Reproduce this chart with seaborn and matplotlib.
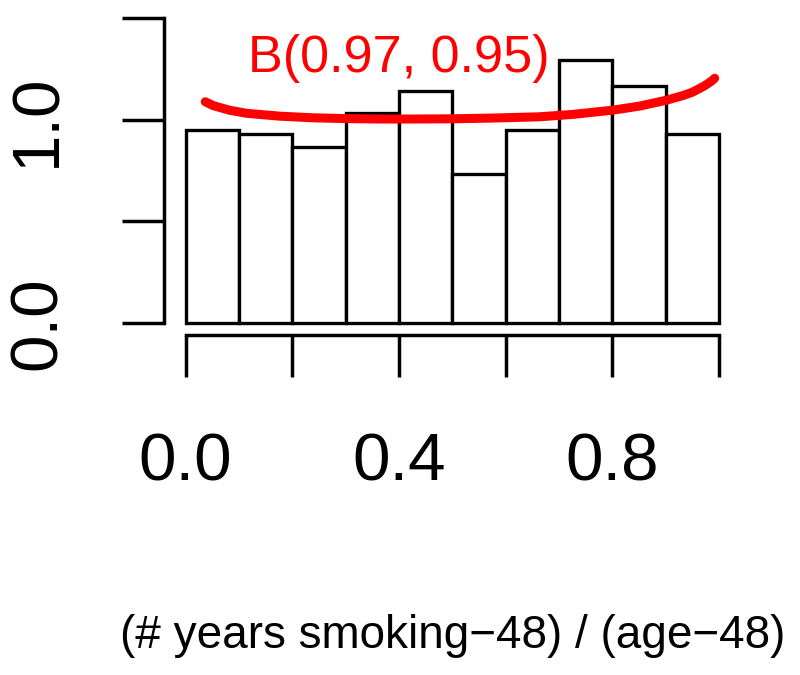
import matplotlib
matplotlib.use("Agg")
import matplotlib.pyplot as plt
import seaborn as sns

# ---- data ----
bin_edges = [0.0, 0.1, 0.2, 0.3, 0.4, 0.5, 0.6, 0.7, 0.8, 0.9, 1.0]
bin_density = [0.950, 0.928, 0.866, 1.035, 1.142, 0.733, 0.950, 1.295, 1.167, 0.928]

curve_x = [0.037, 0.052, 0.083, 0.115, 0.177, 0.239, 0.302, 0.365, 0.430,
           0.500, 0.580, 0.664, 0.727, 0.802, 0.852, 0.902, 0.933, 0.950,
           0.964, 0.973, 0.980, 0.987, 0.992]
curve_y = [1.089, 1.070, 1.047, 1.032, 1.018, 1.010, 1.006, 1.004, 1.004,
           1.005, 1.009, 1.015, 1.027, 1.048, 1.068, 1.097, 1.120, 1.136,
           1.155, 1.168, 1.180, 1.193, 1.205]

x_ticks = [0.0, 0.2, 0.4, 0.6, 0.8, 1.0]
x_ticklabels = ["0.0", "", "0.4", "", "0.8", ""]
y_ticks = [0.0, 0.5, 1.0, 1.5]
y_ticklabels = ["0.0", "", "1.0", ""]

fit_label = "B(0.97, 0.95)"
x_label = "(# years smoking\u221248) / (age\u221248)"

# ---- styling ----
sns.set_style("ticks")
plt.rcParams["font.family"] = ["Liberation Sans", "DejaVu Sans"]

fig = plt.figure(figsize=(8, 6.75), dpi=100)
W, H = 800, 675
left_px, right_px = 164.2, 740.3
top_px, bottom_px = 6.2, 334.9
ax = fig.add_axes([left_px / W, 1 - bottom_px / H,
                   (right_px - left_px) / W, (bottom_px - top_px) / H])

centers = [(bin_edges[i] + bin_edges[i + 1]) / 2 for i in range(len(bin_density))]
sns.histplot(x=centers, weights=bin_density, bins=bin_edges, stat="count",
             color="white", edgecolor="black", linewidth=2.4, alpha=1.0,
             ax=ax)

sns.lineplot(x=curve_x, y=curve_y, color="red", linewidth=6.5, ax=ax,
             solid_capstyle="round", solid_joinstyle="round", sort=True)

ax.text(0.40, 1.236, fit_label, color="red", fontsize=37.5,
        ha="center", va="baseline")

ax.set_xlim(-0.04, 1.04)
ax.set_ylim(-0.06, 1.56)

ax.set_xticks(x_ticks)
ax.set_xticklabels(x_ticklabels)
ax.set_yticks(y_ticks)
ax.set_yticklabels(y_ticklabels, rotation=90, va="center")

for s in ["top", "right"]:
    ax.spines[s].set_visible(False)
ax.spines["bottom"].set_bounds(0, 1)
ax.spines["left"].set_bounds(0, 1.5)
for s in ["bottom", "left"]:
    ax.spines[s].set_linewidth(2.5)
    ax.spines[s].set_color("black")

ax.tick_params(axis="both", length=30, width=2.5, color="black",
               labelsize=48.5, labelcolor="black")
ax.tick_params(axis="x", pad=40)
ax.tick_params(axis="y", pad=38)

ax.set_ylabel("")
ax.set_xlabel(x_label, fontsize=33, color="black")
ax.xaxis.label.set_va("baseline")
ax.xaxis.set_label_coords(0.5, (bottom_px - 647.5) / (bottom_px - top_px))

fig.patch.set_facecolor("white")
ax.set_facecolor("white")

fig.savefig("out.png", dpi=100)
